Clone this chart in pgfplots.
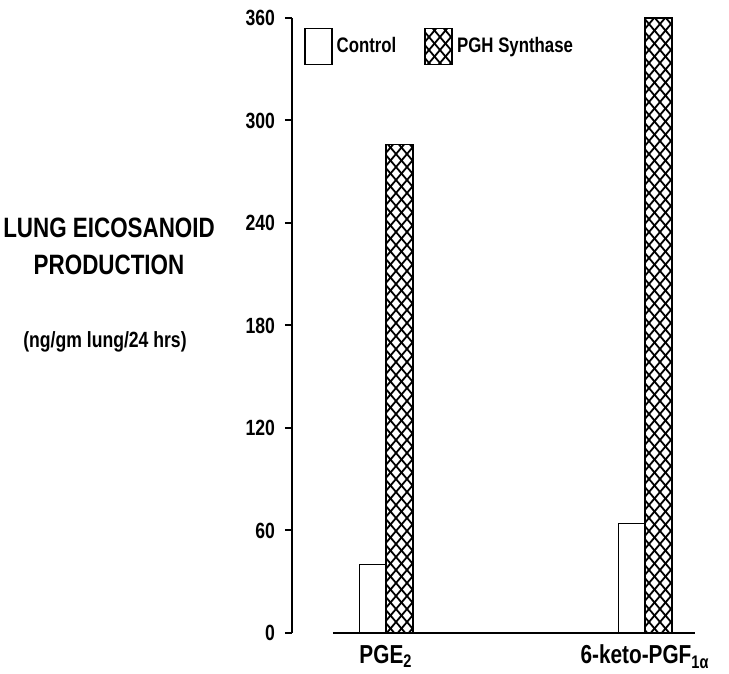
\documentclass[border=0pt]{standalone}
\usepackage{pgfplots}
\pgfplotsset{compat=1.18}
\usepackage{pgfplotstable}
\usepackage{fontspec}
\setmainfont{Liberation Sans}[FakeStretch=0.8]
\usetikzlibrary{patterns}
\pgfdeclarepatternformonly{diamonds}{\pgfqpoint{-1pt}{-1pt}}{\pgfqpoint{6.5pt}{7.5pt}}{\pgfqpoint{5.5pt}{6.5pt}}{%
  \pgfsetlinewidth{0.9pt}%
  \pgfpathmoveto{\pgfqpoint{0pt}{0pt}}\pgfpathlineto{\pgfqpoint{5.5pt}{6.5pt}}%
  \pgfpathmoveto{\pgfqpoint{0pt}{6.5pt}}\pgfpathlineto{\pgfqpoint{5.5pt}{0pt}}%
  \pgfusepath{stroke}}

\pgfplotstableread{
x control pgh
0 40 286
1 64 360
}\datatable

\begin{document}
\begin{tikzpicture}
\useasboundingbox (-146pt,-20.5pt) rectangle (218.5pt,316.5pt);
\begin{axis}[
  at={(0,0)}, anchor=south west,
  scale only axis, width=201.5pt, height=307.5pt,
  xmin=-0.363, xmax=1.193, ymin=0, ymax=360,
  axis x line=bottom, axis y line=left,
  axis line style={-, line width=1pt, black},
  x axis line style={shorten <=20.5pt},
  ytick={0,60,...,360}, xtick={0,1},
  xticklabels={PGE\textsubscript{2}, 6-keto-PGF\textsubscript{1α}},
  tick align=outside, major tick length=3.5pt,
  ytick style={line width=1pt, black},
  major x tick style={draw=none},
  /pgf/number format/assume math mode=true,
  yticklabel style={font=\fontsize{11}{11}\selectfont\bfseries, xshift=-1.5pt},
  xticklabel style={font=\fontsize{13}{13}\selectfont\bfseries, yshift=1pt},
  clip=false,
  legend style={at={(0.03,0.985)}, anchor=north west, draw=none, fill=none,
    inner sep=0pt, font=\fontsize{10.5}{12}\selectfont\bfseries,
    /tikz/every even column/.append style={column sep=12pt}},
  legend columns=2,
]
\addplot[ybar, bar width=0.103, bar shift=-0.0515, fill=white, draw=black, line width=0.6pt,
  legend image code/.code={\draw[fill=white,draw=black,line width=0.6pt] (0pt,-9pt) rectangle (13.5pt,9pt);}]
  table[x=x, y=control] {\datatable};
\addlegendentry{Control}
\addplot[ybar, bar width=0.103, bar shift=0.0515, pattern=diamonds, draw=black, line width=0.9pt,
  legend image code/.code={\draw[pattern=diamonds,draw=black,line width=0.9pt] (0pt,-9pt) rectangle (13.5pt,9pt);}]
  table[x=x, y=pgh] {\datatable};
\addlegendentry{PGH Synthase}
\node[font=\fontsize{14}{14}\selectfont\bfseries] at (rel axis cs:-0.454,0.6585) {LUNG EICOSANOID};
\node[font=\fontsize{14}{14}\selectfont\bfseries] at (rel axis cs:-0.454,0.598) {PRODUCTION};
\node[font=\fontsize{11}{11}\selectfont\bfseries] at (rel axis cs:-0.464,0.473) {(ng/gm lung/24 hrs)};
\end{axis}
\end{tikzpicture}
\end{document}
